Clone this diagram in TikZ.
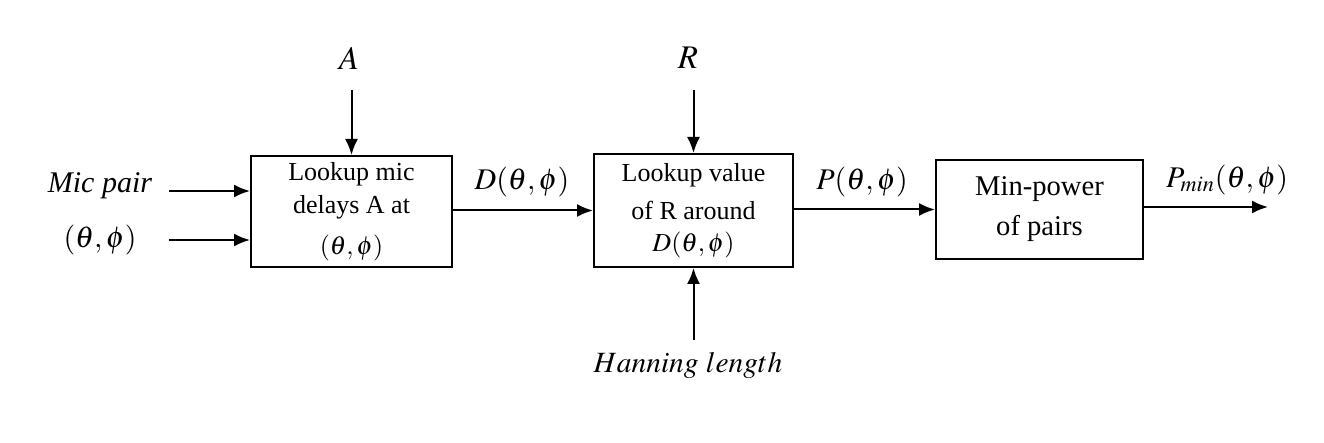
\documentclass[tikz,border=0pt]{standalone}
\usepackage{mathptmx}
\usepackage[no-math]{fontspec}
\setmainfont{Liberation Serif}
\usetikzlibrary{positioning, arrows.meta}

\tikzset{
    block/.style={draw, line width=1pt, rectangle, align=center, inner sep=0pt},
    arr/.style={-{Latex[length=8pt, width=6.5pt]}, line width=1pt},
    lbl/.style={inner sep=0pt, font=\fontsize{15}{17}\selectfont}
}

\begin{document}
\begin{tikzpicture}[x=0.5pt, y=-0.5pt]
    \useasboundingbox (0, 0) rectangle (1324, 443);

    \node (lut) [block, minimum width=100.5pt, minimum height=55.5pt, font=\fontsize{13}{16.5}\selectfont] at (351.5, 211.5) {Lookup mic\\ delays A at\\[4pt] $(\theta, \phi)$};
    \node (lkr) [block, minimum width=99.5pt, minimum height=56.5pt, font=\fontsize{13}{16.5}\selectfont] at (693.5, 210.5) {Lookup value\\[2.5pt] of R around\\[-0.5pt] $D(\theta, \phi)$};
    \node (minp) [block, minimum width=103.5pt, minimum height=49.5pt, font=\fontsize{14.3}{20}\selectfont] at (1039.5, 209.5) {Min-power\\ of pairs};

    \node (mic) [lbl] at (100, 186) {\textit{Mic pair}};
    \node (dir) [lbl] at (100, 240) {$(\theta, \phi)$};
    \node (a) [lbl, font=\fontsize{16.5}{18}\selectfont] at (349, 58) {$A$};
    \node (r) [lbl, font=\fontsize{16.5}{18}\selectfont] at (688, 58) {$R$};
    \node (han) [lbl, font=\fontsize{14.7}{17}\selectfont] at (688, 365) {$Hanning\ length$};
    \node (d) [lbl] at (522, 182) {$D(\theta, \phi)$};
    \node (p) [lbl] at (862, 182) {$P(\theta, \phi)$};
    \node (pmin) [lbl] at (1227, 180) {$P_{min}(\theta, \phi)$};

    \coordinate (micin) at (169, 191);
    \coordinate (dirin) at (169, 240);
    \coordinate (ain) at (351.5, 90);
    \coordinate (rin) at (693.5, 90);
    \coordinate (hanin) at (693.5, 340);
    \coordinate (pout) at (1268, 207);

    \draw [arr] (micin) -- (micin -| lut.west);
    \draw [arr] (dirin) -- (dirin -| lut.west);
    \draw [arr] (ain) -- (lut.north);
    \draw [arr] (rin) -- (lkr.north);
    \draw [arr] (hanin) -- (lkr.south);
    \draw [arr] (lut.east |- lkr.west) -- (lkr.west);
    \draw [arr] (lkr.east |- minp.west) -- (minp.west);
    \draw [arr] (minp.east |- pout) -- (pout);
\end{tikzpicture}
\end{document}
